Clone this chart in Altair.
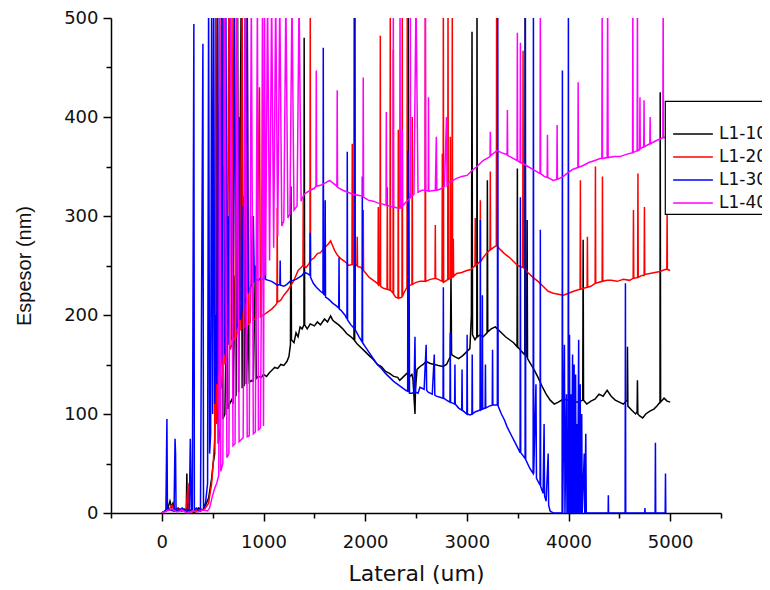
import altair as alt
import pandas as pd

series_names = ["L1-100", "L1-200", "L1-300", "L1-400"]
series_colors = ["#000000", "#ff0000", "#0000ff", "#ff00ff"]

x_major = [0, 1000, 2000, 3000, 4000, 5000]
x_minor = [-500, 500, 1500, 2500, 3500, 4500, 5500]
y_major = [0, 100, 200, 300, 400, 500]
y_minor = [50, 150, 250, 350, 450]

l1_100 = [
    (0, 0), (30, 2), (60, 5), (80, 12), (95, 6), (110, 10), (130, 3), (160, 5), (190, 2), (220, 4),
    (240, 0), (246, 40), (252, 2), (280, 3), (320, 0), (360, 5), (400, 3), (430, 8), (460, 15), (490, 35),
    (505, 50), (520, 60), (545, 520), (555, 70), (575, 85), (590, 520), (600, 95), (620, 100), (640, 230),
    (650, 105), (665, 110), (690, 115), (700, 110), (720, 240), (730, 118), (745, 520), (755, 122),
    (780, 520), (790, 126), (800, 320), (810, 128), (820, 520), (830, 130), (850, 190), (860, 132),
    (880, 134), (900, 133), (920, 250), (930, 136), (950, 138), (980, 137), (1000, 140), (1030, 138),
    (1060, 142), (1090, 145), (1110, 147), (1140, 146), (1170, 150), (1200, 149), (1230, 153), (1250, 158),
    (1265, 170), (1270, 330), (1275, 175), (1300, 172), (1320, 182), (1340, 178), (1360, 188), (1380, 186),
    (1398, 190), (1400, 480), (1405, 190), (1430, 186), (1460, 191), (1500, 189), (1530, 193), (1560, 190),
    (1600, 196), (1630, 193), (1660, 199), (1680, 195), (1700, 193), (1740, 190), (1780, 186), (1820, 181),
    (1860, 178), (1890, 175), (1893, 520), (1897, 174), (1920, 171), (1960, 167), (2000, 163), (2040, 159),
    (2080, 155), (2120, 150), (2160, 148), (2200, 143), (2240, 141), (2280, 138), (2320, 137), (2340, 134),
    (2360, 136), (2380, 138), (2400, 140), (2421, 142), (2423, 520), (2427, 142), (2440, 138), (2460, 140),
    (2470, 135), (2480, 118), (2490, 100), (2495, 125), (2510, 145), (2540, 148), (2570, 150), (2600, 153),
    (2640, 151), (2680, 150), (2720, 149), (2766, 148), (2800, 150), (2838, 158), (2844, 242), (2850, 160),
    (2880, 158), (2920, 156), (2960, 159), (3000, 163), (3030, 166), (3045, 200), (3051, 486), (3056, 180),
    (3080, 175), (3098, 178), (3100, 520), (3104, 178), (3130, 180), (3160, 178), (3199, 182), (3202, 336),
    (3206, 183), (3240, 186), (3280, 188), (3300, 186), (3340, 182), (3380, 178), (3420, 175), (3460, 172),
    (3494, 168), (3497, 348), (3500, 168), (3540, 163), (3570, 160), (3573, 520), (3577, 160), (3590, 158),
    (3593, 296), (3597, 156), (3620, 152), (3660, 145), (3700, 137), (3740, 128), (3780, 120), (3820, 114),
    (3860, 110), (3900, 112), (3950, 115), (4000, 114), (4050, 112), (4100, 112), (4140, 114), (4144, 276),
    (4148, 114), (4180, 110), (4220, 113), (4260, 115), (4300, 120), (4340, 118), (4380, 124), (4420, 118),
    (4460, 114), (4500, 112), (4540, 110), (4577, 114), (4580, 168), (4584, 108), (4620, 104), (4660, 100),
    (4675, 102), (4678, 134), (4682, 100), (4700, 98), (4730, 96), (4760, 100), (4800, 103), (4840, 105),
    (4870, 108), (4900, 112), (4902, 425), (4906, 112), (4940, 116), (4970, 113), (5000, 112),
]

l1_200 = [
    (0, 0), (40, 3), (80, 5), (100, 8), (120, 2), (160, 4), (200, 2), (240, 3), (258, 30), (264, 2),
    (300, 1), (340, 3), (380, 2), (420, 4), (460, 10), (490, 30), (505, 50), (520, 75), (530, 520), (540, 90),
    (560, 110), (570, 520), (580, 125), (600, 140), (610, 520), (620, 150), (640, 158), (660, 520), (670, 165),
    (690, 170), (700, 520), (710, 175), (730, 178), (740, 520), (750, 182), (770, 185), (790, 520), (800, 187),
    (820, 189), (840, 520), (850, 191), (870, 193), (890, 300), (900, 195), (930, 197), (960, 430), (970, 198),
    (1000, 200), (1040, 203), (1080, 206), (1120, 210), (1132, 212), (1135, 308), (1138, 213), (1170, 215),
    (1200, 220), (1240, 225), (1270, 230), (1300, 235), (1340, 245), (1370, 248), (1388, 250), (1391, 316),
    (1394, 250), (1420, 248), (1450, 252), (1457, 255), (1460, 520), (1463, 255), (1500, 258), (1530, 262),
    (1560, 263), (1600, 268), (1640, 272), (1660, 275), (1680, 270), (1700, 265), (1730, 260), (1760, 257),
    (1800, 254), (1840, 250), (1870, 251), (1873, 373), (1876, 251), (1919, 250), (1922, 279), (1925, 249),
    (1960, 248), (1978, 246), (1981, 306), (1984, 245), (2000, 243), (2040, 238), (2080, 235), (2120, 232),
    (2126, 231), (2129, 309), (2132, 231), (2146, 230), (2149, 482), (2152, 229), (2180, 227), (2215, 226),
    (2218, 329), (2221, 226), (2244, 225), (2247, 520), (2250, 225), (2274, 222), (2277, 468), (2280, 221),
    (2300, 218), (2323, 217), (2326, 387), (2329, 217), (2362, 218), (2365, 520), (2368, 219), (2380, 222),
    (2411, 228), (2414, 520), (2417, 228), (2440, 230), (2460, 231), (2463, 400), (2466, 231), (2500, 233),
    (2540, 234), (2589, 234), (2592, 520), (2595, 234), (2640, 236), (2687, 237), (2690, 291), (2693, 237),
    (2720, 236), (2756, 234), (2759, 363), (2762, 234), (2766, 233), (2769, 520), (2772, 233), (2800, 235),
    (2812, 236), (2815, 520), (2818, 236), (2835, 237), (2838, 380), (2841, 237), (2854, 238), (2857, 520),
    (2860, 238), (2864, 239), (2867, 277), (2870, 239), (2900, 242), (2950, 243), (3000, 245), (3040, 246),
    (3080, 250), (3083, 298), (3086, 250), (3130, 254), (3133, 316), (3136, 254), (3160, 258), (3200, 263),
    (3228, 266), (3231, 345), (3234, 266), (3260, 268), (3290, 270), (3293, 520), (3296, 270), (3330, 266),
    (3370, 262), (3420, 258), (3460, 254), (3500, 250), (3550, 248), (3553, 467), (3556, 248), (3600, 243),
    (3650, 238), (3700, 234), (3750, 229), (3800, 224), (3850, 222), (3900, 221), (3950, 220), (4000, 222),
    (4050, 224), (4114, 226), (4117, 336), (4120, 226), (4150, 227), (4183, 228), (4186, 279), (4189, 228),
    (4220, 229), (4262, 232), (4265, 350), (4268, 232), (4331, 234), (4334, 340), (4337, 234), (4380, 235),
    (4420, 235), (4480, 234), (4540, 236), (4600, 235), (4636, 237), (4639, 306), (4642, 237), (4680, 238),
    (4683, 343), (4686, 238), (4720, 240), (4744, 240), (4747, 309), (4750, 241), (4800, 242), (4850, 243),
    (4900, 244), (4950, 246), (4967, 246), (4970, 303), (4973, 246), (5000, 245),
]

l1_300 = [
    (0, 0), (40, 3), (50, 95), (55, 5), (80, 3), (120, 2), (130, 75), (135, 60), (140, 2), (170, 3),
    (200, 5), (230, 2), (250, 4), (270, 2), (280, 75), (285, 40), (290, 2), (300, 3), (315, 494), (320, 3),
    (340, 5), (360, 3), (380, 2), (404, 474), (410, 5), (430, 10), (450, 30), (460, 520), (470, 60), (480, 80),
    (490, 520), (500, 100), (510, 520), (520, 110), (530, 200), (540, 130), (550, 520), (560, 140), (570, 430),
    (580, 150), (590, 520), (600, 155), (610, 350), (620, 160), (630, 520), (640, 165), (650, 300), (660, 170),
    (675, 520), (690, 175), (700, 180), (715, 520), (730, 185), (750, 192), (760, 400), (770, 195), (790, 205),
    (800, 310), (810, 210), (830, 218), (840, 520), (850, 222), (870, 228), (890, 232), (900, 300), (910, 234),
    (930, 236), (950, 235), (970, 237), (1000, 236), (1014, 238), (1017, 265), (1020, 236), (1050, 235),
    (1080, 234), (1110, 232), (1140, 230), (1161, 231), (1164, 255), (1167, 230), (1200, 229), (1230, 231),
    (1260, 234), (1290, 235), (1320, 236), (1350, 238), (1380, 240), (1400, 243), (1430, 242), (1457, 240),
    (1460, 283), (1463, 238), (1490, 232), (1520, 228), (1560, 224), (1585, 222), (1588, 470), (1591, 221),
    (1604, 220), (1607, 316), (1610, 218), (1640, 216), (1680, 212), (1720, 209), (1740, 207), (1743, 258),
    (1746, 206), (1760, 205), (1800, 200), (1821, 196), (1824, 365), (1827, 195), (1860, 190), (1897, 186),
    (1900, 520), (1903, 185), (1940, 178), (1969, 173), (1972, 340), (1975, 172), (2000, 168), (2040, 162),
    (2080, 156), (2120, 150), (2160, 146), (2200, 141), (2240, 137), (2280, 133), (2320, 130), (2360, 127),
    (2400, 124), (2418, 123), (2421, 366), (2424, 122), (2430, 323), (2436, 121), (2460, 121), (2480, 122),
    (2490, 178), (2495, 122), (2520, 121), (2539, 127), (2580, 125), (2600, 170), (2605, 124), (2620, 122),
    (2660, 120), (2680, 160), (2685, 119), (2700, 118), (2736, 117), (2766, 116), (2769, 228), (2772, 116),
    (2800, 114), (2834, 112), (2837, 182), (2840, 112), (2880, 110), (2883, 150), (2886, 110), (2920, 106),
    (2950, 104), (2953, 145), (2956, 104), (3000, 100), (3003, 180), (3006, 100), (3031, 99), (3050, 100),
    (3053, 160), (3056, 100), (3080, 102), (3130, 104), (3133, 296), (3136, 104), (3150, 105), (3153, 220),
    (3156, 105), (3180, 106), (3183, 150), (3186, 106), (3220, 108), (3250, 109), (3253, 165), (3256, 109),
    (3300, 109), (3304, 520), (3308, 108), (3340, 100), (3370, 94), (3396, 87), (3440, 78), (3480, 70),
    (3524, 61), (3527, 319), (3530, 61), (3573, 55), (3576, 520), (3579, 54), (3620, 45), (3652, 40),
    (3655, 520), (3658, 40), (3680, 130), (3685, 35), (3720, 28), (3723, 286), (3726, 27), (3750, 20),
    (3760, 90), (3765, 17), (3780, 12), (3800, 60), (3805, 8), (3819, 2), (3850, 0), (3900, 0), (3937, 0),
    (3940, 447), (3943, 0), (3960, 170), (3965, 0), (3980, 120), (3985, 0), (3996, 0), (3999, 520), (4002, 0),
    (4010, 180), (4015, 0), (4025, 120), (4030, 0), (4040, 160), (4045, 0), (4055, 150), (4060, 0),
    (4070, 140), (4075, 0), (4085, 90), (4090, 0), (4100, 175), (4105, 0), (4115, 130), (4120, 0),
    (4130, 100), (4135, 0), (4155, 60), (4160, 0), (4170, 80), (4175, 0), (4200, 0), (4390, 0), (4392, 18),
    (4394, 0), (4557, 0), (4560, 232), (4563, 0), (4700, 0), (4750, 0), (4752, 5), (4754, 0), (4852, 0),
    (4855, 71), (4858, 0), (4951, 0), (4954, 40), (4957, 0),
]

l1_400 = [
    (0, 0), (50, 2), (100, 4), (150, 1), (200, 3), (250, 0), (300, 2), (350, 1), (400, 3), (450, 2),
    (470, 5), (500, 18), (520, 25), (540, 30), (560, 38), (570, 520), (580, 42), (600, 50), (620, 520),
    (640, 56), (660, 60), (680, 520), (700, 68), (720, 70), (740, 520), (760, 72), (780, 74), (800, 76),
    (820, 520), (840, 77), (860, 78), (880, 520), (900, 80), (920, 82), (940, 520), (950, 84), (970, 86),
    (980, 230), (990, 520), (1000, 88), (1010, 520), (1020, 240), (1040, 520), (1060, 255), (1080, 520),
    (1100, 268), (1120, 520), (1140, 280), (1160, 520), (1180, 290), (1200, 295), (1220, 520), (1240, 298),
    (1260, 302), (1280, 520), (1300, 306), (1330, 310), (1350, 520), (1370, 315), (1400, 322), (1430, 324),
    (1460, 326), (1500, 328), (1516, 330), (1519, 447), (1522, 330), (1560, 331), (1600, 333), (1650, 336),
    (1700, 332), (1722, 330), (1725, 427), (1728, 329), (1780, 326), (1830, 324), (1880, 322), (1930, 321),
    (1978, 320), (1981, 440), (1984, 319), (2030, 316), (2080, 315), (2130, 313), (2175, 312), (2205, 311),
    (2208, 405), (2211, 311), (2240, 310), (2274, 309), (2277, 520), (2280, 309), (2320, 308), (2340, 308),
    (2343, 520), (2346, 308), (2362, 309), (2365, 387), (2368, 310), (2400, 314), (2441, 318), (2444, 520),
    (2447, 319), (2480, 322), (2500, 520), (2520, 324), (2560, 326), (2589, 326), (2592, 520), (2595, 326),
    (2620, 325), (2623, 420), (2626, 325), (2690, 326), (2700, 380), (2705, 326), (2736, 327), (2780, 330),
    (2800, 400), (2805, 331), (2830, 334), (2864, 336), (2900, 338), (2950, 340), (3002, 341), (3050, 346),
    (3100, 350), (3130, 353), (3160, 356), (3228, 360), (3231, 385), (3234, 361), (3297, 366), (3340, 364),
    (3396, 362), (3399, 407), (3402, 361), (3425, 360), (3460, 358), (3494, 356), (3497, 485), (3500, 356),
    (3524, 354), (3527, 475), (3530, 354), (3553, 353), (3600, 350), (3650, 347), (3700, 344), (3720, 343),
    (3723, 520), (3726, 343), (3760, 340), (3790, 339), (3793, 382), (3796, 339), (3848, 336), (3885, 337),
    (3888, 392), (3891, 337), (3950, 340), (3986, 343), (4040, 347), (4092, 349), (4095, 435), (4098, 349),
    (4144, 351), (4200, 354), (4260, 356), (4311, 358), (4328, 358), (4331, 520), (4334, 358), (4380, 359),
    (4385, 520), (4390, 359), (4450, 360), (4508, 360), (4560, 362), (4630, 364), (4633, 520), (4636, 364),
    (4675, 366), (4678, 520), (4681, 366), (4700, 367), (4703, 420), (4706, 368), (4740, 370), (4743, 417),
    (4746, 370), (4800, 373), (4803, 400), (4806, 373), (4860, 376), (4928, 379), (4931, 520), (4934, 379),
    (4970, 380), (5000, 382),
]

rows = []
for name, pts in zip(series_names, [l1_100, l1_200, l1_300, l1_400]):
    for i, (xv, yv) in enumerate(pts):
        rows.append({"serie": name, "lateral": xv, "espesor": yv, "idx": i})
df = pd.DataFrame(rows)
anchor = pd.DataFrame({"lateral": [0], "espesor": [0]})

WIDE = "DejaVu Sans"
ARIAL = "Liberation Sans"
xscale = alt.Scale(domain=[-500, 5500], nice=False, zero=False)
yscale = alt.Scale(domain=[0, 500], nice=False)

lines = alt.Chart(df).mark_line(clip=True, strokeWidth=1.5, interpolate="linear").encode(
    x=alt.X("lateral:Q", scale=xscale,
            axis=alt.Axis(values=x_major, title="Lateral (um)", orient="bottom", tickSize=8,
                          grid=False, format="d", labelFont=WIDE, labelFontSize=18,
                          titleFont=WIDE, titleFontSize=22, titleFontWeight="normal",
                          titlePadding=12, labelPadding=12)),
    y=alt.Y("espesor:Q", scale=yscale,
            axis=alt.Axis(values=y_major, title="Espesor (nm)", orient="left", tickSize=8,
                          grid=False, format="d", labelFont=WIDE, labelFontSize=18,
                          titleFont=ARIAL, titleFontSize=20, titleFontWeight="normal",
                          titlePadding=29, labelPadding=5)),
    color=alt.Color("serie:N", scale=alt.Scale(domain=series_names, range=series_colors),
                    legend=alt.Legend(title=" ", orient="none", legendX=554, legendY=83)),
    order="idx:Q",
)

minor = alt.Chart(anchor).mark_point(opacity=0).encode(
    x=alt.X("lateral:Q", scale=xscale,
            axis=alt.Axis(values=x_minor, title=None, orient="bottom", tickSize=5, labels=False,
                          grid=False, domain=False)),
    y=alt.Y("espesor:Q", scale=yscale,
            axis=alt.Axis(values=y_minor, title=None, orient="left", tickSize=5, labels=False,
                          grid=False, domain=False)),
)

chart = alt.layer(lines, minor).resolve_axis(x="independent", y="independent").properties(
    width=610, height=495, autosize="none",
    padding={"left": 103, "top": 10, "right": 41, "bottom": 72},
).configure_view(stroke=None).configure_axis(
    domainColor="black", tickColor="black", domainWidth=1.5, tickWidth=1.5,
    labelColor="#111111", titleColor="#111111",
).configure_legend(
    strokeColor="black", strokeWidth=1.2, fillColor="white", padding=3,
    titleFontSize=8, titlePadding=8, labelFont=WIDE, labelFontSize=17, labelColor="#111111",
    symbolType="M-1.5,0H1.5", symbolSize=702, symbolStrokeWidth=1.5, symbolOffset=11,
    labelOffset=12, rowPadding=1, cornerRadius=0,
)

chart.save("out.html", embed_options={"renderer": "svg", "actions": False})
